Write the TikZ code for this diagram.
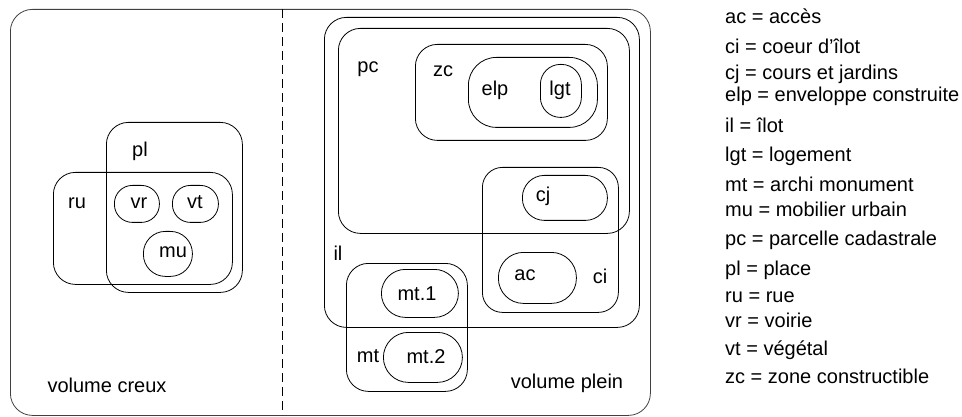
\documentclass[tikz,border=0pt]{standalone}
\usepackage{fontspec}
\setmainfont{Liberation Sans}
\tikzset{
  rbox/.style={draw, line width=0.8pt, inner sep=0pt, anchor=north west},
  lbl/.style={font=\fontsize{20}{24}\selectfont, inner sep=0pt, anchor=base},
  leg/.style={font=\fontsize{20}{24}\selectfont, inner sep=0pt, anchor=base west},
  sep/.style={line width=0.8pt, dash pattern=on 9pt off 5pt}
}
\newcommand\rbox[6]{\node[rbox, rounded corners=#6pt, minimum width={#4pt-#2pt}, minimum height={#5pt-#3pt}] (#1) at (#2,#3) {};}
\begin{document}
\begin{tikzpicture}[x=1pt,y=-1pt]
\useasboundingbox (0,0) rectangle (962,417);
% outer frame
\node[rbox, draw=black!75, rounded corners=22pt, minimum width=640pt, minimum height=406pt] (frame) at (10,9) {};
\coordinate (dtop) at (282,9);
\coordinate (dbot) at (282,415);
\draw[sep] (dtop) -- (dbot);
% left: volume creux
\rbox{pl}{106}{122}{242}{292}{22}
\rbox{ru}{53}{172}{232}{284}{22}
\rbox{vr}{114}{185}{159}{222}{18}
\rbox{vt}{172}{185}{218}{222}{18}
\rbox{mu}{143}{231}{192}{276}{22}
\node[lbl] (tpl) at (140,157) {pl};
\node[lbl] (tru) at (77,208) {ru};
\node[lbl] (tvr) at (139,208) {vr};
\node[lbl] (tvt) at (195,208) {vt};
\node[lbl] (tmu) at (173,258) {mu};
\node[lbl] (tvc) at (107,392) {volume creux};
% right: volume plein
\rbox{il}{324}{17}{639}{327}{22}
\rbox{pc}{338}{28}{629}{233}{22}
\rbox{zc}{415}{44}{607}{140}{22}
\rbox{elp}{468}{57}{597}{127}{28}
\rbox{lgt}{540}{64}{581}{117}{20}
\rbox{ci}{482}{167}{618}{312}{20}
\rbox{cj}{522}{175}{607}{220}{22}
\rbox{ac}{498}{252}{576}{303}{25}
\rbox{mt}{346}{263}{467}{391}{22}
\rbox{mtone}{381}{269}{458}{317}{24}
\rbox{mttwo}{383}{332}{462}{382}{25}
\node[lbl] (tpc) at (368,73) {pc};
\node[lbl] (tzc) at (443,77) {zc};
\node[lbl] (telp) at (495,96) {elp};
\node[lbl] (tlgt) at (560,96) {lgt};
\node[lbl] (tcj) at (543,201) {cj};
\node[lbl] (til) at (338,260) {il};
\node[lbl] (tac) at (525,280) {ac};
\node[lbl] (tci) at (600,283) {ci};
\node[lbl] (tmtone) at (417,300) {mt.1};
\node[lbl] (tmt) at (368,362) {mt};
\node[lbl] (tmttwo) at (426,363) {mt.2};
\node[lbl] (tvp) at (567,388) {volume plein};
% legend
\node[leg] (l1) at (725,24) {ac = accès};
\node[leg] (l2) at (725,54) {ci = coeur d'îlot};
\node[leg] (l3) at (725,80) {cj = cours et jardins};
\node[leg] (l4) at (725,102) {elp = enveloppe construite};
\node[leg] (l5) at (725,133) {il = îlot};
\node[leg] (l6) at (725,162) {lgt = logement};
\node[leg] (l7) at (725,192) {mt = archi monument};
\node[leg] (l8) at (725,217) {mu = mobilier urbain};
\node[leg] (l9) at (725,245) {pc = parcelle cadastrale};
\node[leg] (l10) at (725,275) {pl = place};
\node[leg] (l11) at (725,302) {ru = rue};
\node[leg] (l12) at (725,327) {vr = voirie};
\node[leg] (l13) at (725,355) {vt = végétal};
\node[leg] (l14) at (725,383) {zc = zone constructible};
\end{tikzpicture}
\end{document}
